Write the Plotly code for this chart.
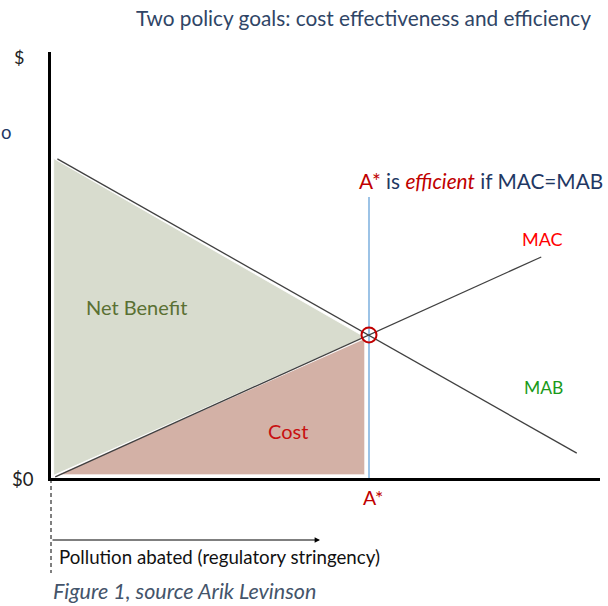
import plotly.graph_objects as go

# ---- data (abatement units on x, $ on y) ----
mab_x = [0.12, 9.92]
mab_y = [6.02, 0.47]
mac_x = [0.08, 9.25]
mac_y = [0.02, 4.17]
a_star = 6.0
a_star_y = 2.70
a_line_top = 5.30
nb_x = [0.05, 0.05, 5.92]
nb_y = [6.03, 0.05, 2.66]
cost_x = [0.12, 5.92, 5.92]
cost_y = [0.06, 2.63, 0.06]

W, H = 608, 606
ML, MR, MT, MB = 51, 8, 52, 128
PX = 53.0  # pixels per unit
xr = [0, (W - ML - MR) / PX]
yr = [0, (H - MT - MB) / PX]

def px(x):
    return (x - ML) / (W - ML - MR)

def py(y):
    return (H - MB - y) / (H - MT - MB)

FONT = "Lato"
NAVY = "#1f3864"
RED = "#c00000"

fig = go.Figure()
fig.add_trace(go.Scatter(x=nb_x + [nb_x[0]], y=nb_y + [nb_y[0]], fill="toself",
                         fillcolor="rgb(216,220,206)", line=dict(color="rgba(255,255,255,0.8)", width=1),
                         mode="lines", hoverinfo="skip"))
fig.add_trace(go.Scatter(x=cost_x + [cost_x[0]], y=cost_y + [cost_y[0]], fill="toself",
                         fillcolor="rgb(211,177,166)", line=dict(color="rgba(255,255,255,0.8)", width=1),
                         mode="lines", hoverinfo="skip"))
fig.add_trace(go.Scatter(x=[a_star, a_star], y=[0, a_line_top], mode="lines",
                         line=dict(color="#5b9bd5", width=1.2), hoverinfo="skip"))
fig.add_trace(go.Scatter(x=mab_x, y=mab_y, mode="lines", line=dict(color="#404040", width=1.3)))
fig.add_trace(go.Scatter(x=mac_x, y=mac_y, mode="lines", line=dict(color="#404040", width=1.3)))
fig.add_trace(go.Scatter(x=[a_star], y=[a_star_y], mode="markers",
                         marker=dict(symbol="circle-open", size=15, color=RED, line=dict(width=2, color=RED))))

ann = []
def t(text, x, y, size, color, xanchor="center", italic=False):
    ann.append(dict(text=("<i>%s</i>" % text) if italic else text, x=px(x), y=py(y), xref="paper", yref="paper",
                    xanchor=xanchor, yanchor="middle", showarrow=False,
                    font=dict(family=FONT, size=size, color=color)))

t("Two policy goals: cost effectiveness and efficiency", 593, 18, 20.8, "#2f4566", "right")
t("$", 19, 57, 18, "#222222")
t("$0", 23, 479, 18.5, "#222222")
t("o", 6, 132, 18.5, NAVY)
t('<span style="color:%s">A*</span> is <i><span style="color:%s">efficient</span></i> if MAC=MAB' % (RED, RED),
  357, 180, 20.8, NAVY, "left")
t("MAC", 542, 239, 18, "#ff0000")
t("MAB", 543, 387, 17.5, "#1a9a1a")
t("Net Benefit", 136, 307, 20, "#5a7033")
t("Cost", 288, 431, 20, "#c81010")
t("A*", 373, 497, 19.5, RED)
t("Pollution abated (regulatory stringency)", 57, 557, 18.7, "#111111", "left")
t("Figure 1, source Arik Levinson", 51, 591, 21.5, "#44546a", "left", italic=True)

ann.append(dict(x=px(320), y=py(540), xref="paper", yref="paper", ax=-269, ay=0,
                showarrow=True, arrowhead=2, arrowsize=0.9, arrowwidth=1.2, arrowcolor="#000000", text=""))

shapes = [
    dict(type="line", xref="paper", yref="paper", x0=px(51), x1=px(51), y0=py(479), y1=py(573),
         line=dict(color="#000000", width=1, dash="4px,3px")),
]

fig.update_layout(
    width=W, height=H, margin=dict(l=ML, r=MR, t=MT, b=MB),
    paper_bgcolor="white", plot_bgcolor="white", showlegend=False,
    xaxis=dict(range=xr, showgrid=False, zeroline=False, showticklabels=False, ticks="",
               showline=True, linecolor="#000000", linewidth=2.5, fixedrange=True),
    yaxis=dict(range=yr, showgrid=False, zeroline=False, showticklabels=False, ticks="",
               showline=True, linecolor="#000000", linewidth=2.5, fixedrange=True),
    annotations=ann, shapes=shapes,
)

fig.write_html("out.html", config=dict(displayModeBar=False),
               post_script="document.body.style.margin='0';document.body.style.overflow='hidden';")
